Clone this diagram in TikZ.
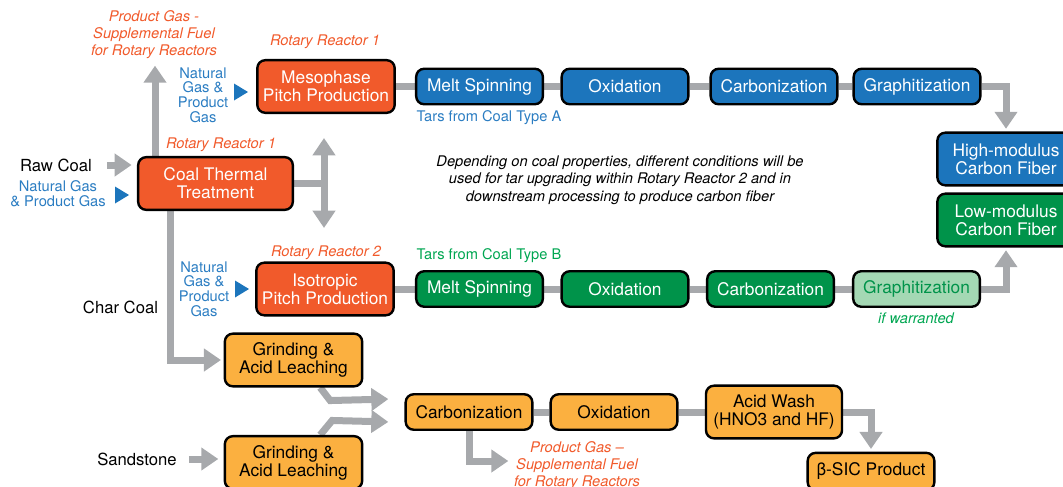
\documentclass[tikz,border=0pt]{standalone}
\usepackage{fontspec}
\setmainfont{TeX Gyre Heros}
\usepackage{tikz}
\usetikzlibrary{arrows.meta,backgrounds}

\definecolor{rxorange}{HTML}{F15A2B}
\definecolor{fibblue}{HTML}{1C75BC}
\definecolor{fibgreen}{HTML}{00934A}
\definecolor{palegreen}{HTML}{A4D8B4}
\definecolor{sicorange}{HTML}{FBB040}
\definecolor{pipegray}{HTML}{A7A9AC}
\definecolor{gasblue}{HTML}{2B7DC2}
\definecolor{tarsgreen}{HTML}{00A651}

\newcommand{\procfont}{\fontsize{13}{13.5}\selectfont}
\newcommand{\feedfont}{\fontsize{12.5}{13}\selectfont}

\tikzset{
  proc/.style={
    shape = rectangle,
    draw,
    line width = 1.8pt,
    rounded corners = 6pt,
    inner sep = 0pt,
    align = center,
    font = \procfont,
    minimum width = 95pt,
    minimum height = 26.6pt
  },
  bigbox/.style={
    minimum width = 103pt,
    minimum height = 39.5pt
  },
  rxbox/.style={proc, fill = rxorange, text = white},
  fiberA/.style={proc, fill = fibblue, text = white},
  fiberB/.style={proc, fill = fibgreen, text = white},
  fiberopt/.style={proc, fill = palegreen, text = fibgreen},
  sicbox/.style={proc, fill = sicorange, text = black},
  pipe/.style={
    draw = pipegray,
    line width = 5.25pt
  },
  flow/.style={
    pipe,
    -{Triangle[width=16.5pt,length=12.75pt]},
    shorten >= 2pt
  },
  rxlab/.style={
    text = rxorange,
    font = \fontsize{11}{12.75}\selectfont\itshape,
    align = center,
    inner sep = 0pt
  },
  gaslab/.style={
    text = gasblue,
    font = \fontsize{11}{11}\selectfont,
    align = center,
    inner sep = 0pt
  },
  feedlab/.style={
    font = \feedfont,
    inner sep = 0pt
  },
  tarslab/.style={
    font = \fontsize{11}{12}\selectfont,
    inner sep = 0pt
  }
}

\begin{document}
\begin{tikzpicture}[x=0.75pt, y=-0.75pt]
    \useasboundingbox (0,0) rectangle (1063,486);
    % reactors
    \node[rxbox, bigbox] (meso) at (326,86.5) {Mesophase\\Pitch Production};
    \node[rxbox, bigbox, minimum width=116pt] (ctt) at (215.5,183.5) {Coal Thermal\\Treatment};
    \node[rxbox, bigbox] (iso) at (325,289) {Isotropic\\Pitch Production};
    % fiber lines
    \foreach \name/\x/\txt in {ams/479.5/Melt Spinning, aox/625/Oxidation, acarb/774/Carbonization, agra/917/Graphitization}{
        \node[fiberA] (\name) at (\x,86.5) {\txt};
    }
    \foreach \name/\x/\txt in {bms/479.5/Melt Spinning, box/625/Oxidation, bcarb/770.5/Carbonization}{
        \node[fiberB] (\name) at (\x,289) {\txt};
    }
    \node[fiberopt] (bgra) at (916.5,289) {Graphitization};
    \node[fiberA, bigbox] (hmf) at (1006,159) {High-modulus\\Carbon Fiber};
    \node[fiberB, bigbox] (lmf) at (1006,220) {Low-modulus\\Carbon Fiber};
    % silicon carbide line
    \node[sicbox, bigbox] (g1) at (293.5,360) {Grinding \&\\Acid Leaching};
    \node[sicbox, bigbox] (g2) at (293.5,462.5) {Grinding \&\\Acid Leaching};
    \node[sicbox] (ocarb) at (469,412) {Carbonization};
    \node[sicbox] (oox) at (614,412) {Oxidation};
    \node[sicbox, bigbox, minimum width=102pt] (wash) at (774,412) {Acid Wash\\(HNO3 and HF)};
    \node[sicbox, minimum height=28pt] (sic) at (871,471.5) {β-SIC Product};

    % labels
    \node[rxlab] (pgup) at (154,35) {Product Gas -\\Supplemental Fuel\\for Rotary Reactors};
    \node[rxlab] (rr1a) at (325,42) {Rotary Reactor 1};
    \node[rxlab] (rr1b) at (221,145) {Rotary Reactor 1};
    \node[rxlab] (rr2) at (326,253) {Rotary Reactor 2};
    \node[rxlab] (pgdown) at (577,466) {Product Gas –\\Supplemental Fuel\\for Rotary Reactors};
    \node[gaslab] (gas1) at (203,95) {Natural\\Gas \&\\Product\\Gas};
    \node[gaslab, font=\fontsize{11}{11.25}\selectfont] (gas0) at (58,193.5) {Natural Gas\\\& Product Gas};
    \node[gaslab] (gas2) at (204,289) {Natural\\Gas \&\\Product\\Gas};
    \node[feedlab] (raw) at (56,165) {Raw Coal};
    \node[feedlab] (char) at (120.5,307) {Char Coal};
    \node[feedlab] (sand) at (137,459) {Sandstone};
    \node[tarslab, text=gasblue] (tarsa) at (489,118) {Tars from Coal Type A};
    \node[tarslab, text=tarsgreen] (tarsb) at (489,256) {Tars from Coal Type B};
    \node[tarslab, text=tarsgreen, font=\fontsize{11}{12}\selectfont\itshape] (warr) at (916,318) {if warranted};
    \node[tarslab, align=center, font=\fontsize{11}{13}\selectfont\itshape] (note) at (620,180)
        {Depending on coal properties, different conditions will be\\used for tar upgrading within Rotary Reactor 2 and in\\downstream processing to produce carbon fiber};

    % gas feed markers
    \foreach \x/\y in {241/92, 122/195, 242/289}{
        \fill[fibblue] (\x-7,\y-8.5) -- (\x+7,\y) -- (\x-7,\y+8.5) -- cycle;
    }

    \coordinate (pgtip) at (155,63);
    \coordinate (updbl) at (324,138);
    \coordinate (dndbl) at (324,228);
    \coordinate (charx) at (170,0);
    \coordinate (cin1) at (391,399);
    \coordinate (cin2) at (391,422);
    \coordinate (pgout) at (511,461);

    \begin{scope}[on background layer]
        \draw[pipe] (meso) -- (ams) -- (aox) -- (acarb) -- (agra);
        \draw[pipe] (iso) -- (bms) -- (box) -- (bcarb) -- (bgra);
        \draw[flow] (agra) -| (hmf);
        \draw[flow] (bgra) -| (lmf);
        \draw[flow] (pgtip |- ctt.north) -- (pgtip);
        \draw[pipe] (ctt) -- (ctt -| updbl);
        \draw[pipe, {Triangle[width=16.5pt,length=13pt]}-{Triangle[width=16.5pt,length=13pt]}] (updbl) -- (dndbl);
        \draw[flow] (charx |- ctt.south) |- (g1);
        \draw[flow, shorten <=11pt, shorten >=4pt] (raw.east) -- (raw.east -| ctt.west);
        \draw[flow, shorten <=9pt, shorten >=4pt] (sand.east) -- (sand.east -| g2.west);
        \draw[flow] ([xshift=20pt]g1.south) -- ++(10,13) -- (cin1);
        \draw[flow] ([xshift=20pt]g2.north) -- ++(12,-14.5) -- (cin2);
        \draw[pipe] (ocarb) -- (oox) -- (wash);
        \draw[flow] (ocarb) |- (pgout);
        \draw[flow] (wash) -| (sic);
    \end{scope}
\end{tikzpicture}
\end{document}
